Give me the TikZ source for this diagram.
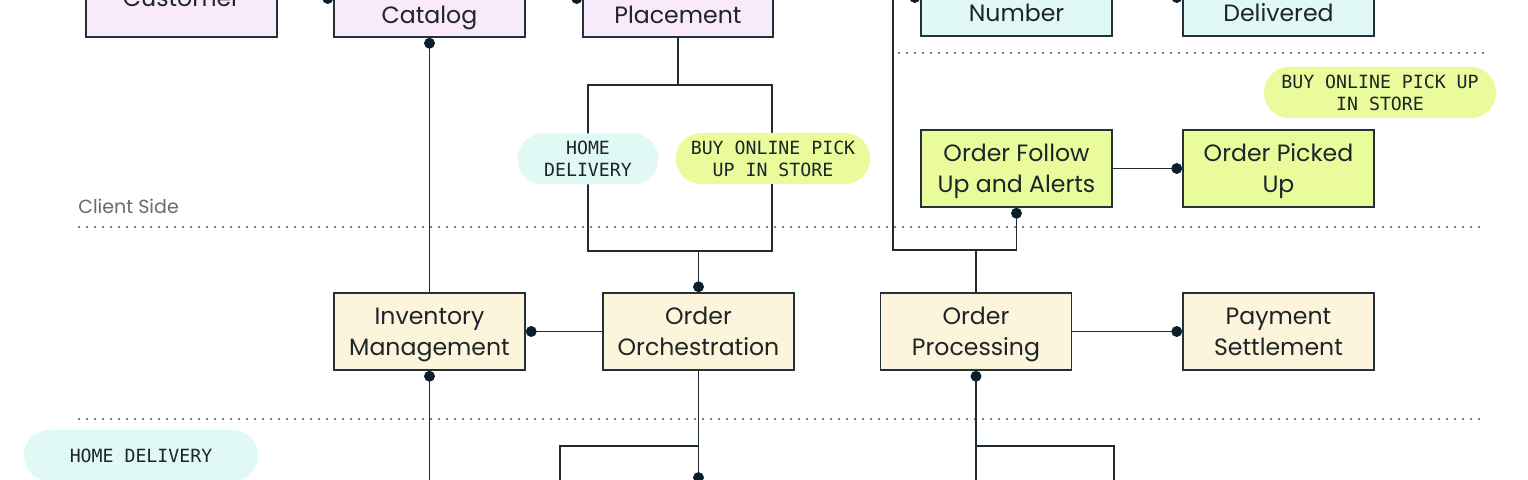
\documentclass[tikz,border=0pt]{standalone}
\usepackage{fontspec}
\setmainfont{Poppins}
\newfontfamily\pillfont{DejaVu Sans Mono}
\usetikzlibrary{arrows.meta}
\definecolor{lav}{HTML}{F8E9FB}
\definecolor{cyanbox}{HTML}{E0F9F5}
\definecolor{lime}{HTML}{E9FB9B}
\definecolor{cream}{HTML}{FDF5DB}
\definecolor{edge}{HTML}{25313A}
\definecolor{wire}{HTML}{1F2B33}
\definecolor{dotc}{HTML}{0B1F2A}
\definecolor{ink}{HTML}{1E2428}
\definecolor{sep}{HTML}{6F7F8E}
\definecolor{greytext}{HTML}{6A6A6A}
\tikzset{
  bdot/.tip={Circle[length=5.4pt,width=5.4pt,color=dotc]},
  box/.style={draw=edge, line width=0.85pt, minimum width=95.5pt, minimum height=38.5pt,
    inner sep=0pt, align=center, text depth=0pt, text=ink, font=\fontsize{11.8}{15.5}\selectfont},
  txt/.style={inner sep=0pt, text=ink, font=\fontsize{11.8}{15.5}\selectfont},
  pill/.style={rounded corners=12.5pt, minimum height=25.5pt, inner sep=0pt, align=center,
    text=ink, font=\pillfont\fontsize{9.1}{11}\selectfont},
  conn/.style={draw=wire, line width=0.95pt},
  sepline/.style={draw=sep, line width=0.8pt, dash pattern=on 0.8pt off 3.2pt},
}
\begin{document}
\begin{tikzpicture}[x=0.5pt,y=-0.5pt]
\useasboundingbox (0,0) rectangle (1528,480);
\clip (0,0) rectangle (1528,480);

% separators
\draw[sepline] (78,227) -- (1485,227);
\draw[sepline] (78,419) -- (1485,419);
\draw[sepline] (898,53) -- (1488,53);
\node[anchor=base west, inner sep=0pt, text=greytext, font=\fontsize{9.5}{11}\selectfont] (client) at (78,214) {Client Side};

% top row boxes (cut by the top edge)
\node[box, fill=lav] (cust) at (181.5,-1.5) {};
\node[txt, anchor=base] (custt) at (181.5,7) {Customer};
\node[box, fill=lav] (cat) at (429.5,-1.5) {};
\node[txt, anchor=base] (catt) at (429.5,23.5) {Catalog};
\node[box, fill=lav, minimum width=95pt] (place) at (678,-1.5) {};
\node[txt, anchor=base] (placet) at (678,23.5) {Placement};
\node[box, fill=cyanbox] (num) at (1016.5,-2.5) {};
\node[txt, anchor=base] (numt) at (1016.5,22) {Number};
\node[box, fill=cyanbox] (deliv) at (1278.5,-2.5) {};
\node[txt, anchor=base] (delivt) at (1278.5,22) {Delivered};

% client side boxes
\node[box, fill=lime] (follow) at (1016.5,168.5) {Order Follow\\Up and Alerts};
\node[box, fill=lime] (picked) at (1278.5,168.5) {Order Picked\\Up};

% middle row
\node[box, fill=cream] (inv) at (429.5,331.5) {Inventory\\Management};
\node[box, fill=cream] (orch) at (698.5,331.5) {Order\\Orchestration};
\node[box, fill=cream] (proc) at (976,331.5) {Order\\Processing};
\node[box, fill=cream] (pay) at (1278.5,331.5) {Payment\\Settlement};

% coordinates
\coordinate (pb) at (678,85);
\coordinate (brtl) at (588,85);
\coordinate (brbr) at (772,251);
\coordinate (brj) at (698.5,251);
\coordinate (pj) at (976,250);
\coordinate (pl) at (893,250);
\coordinate (ob) at (698.5,483);
\coordinate (oj) at (698.5,446);
\coordinate (ol) at (560,446);
\coordinate (olb) at (560,490);
\coordinate (ib) at (429.5,490);
\coordinate (prb) at (976,490);
\coordinate (prj) at (976,446);
\coordinate (prr) at (1114,446);
\coordinate (prrb) at (1114,490);

% connectors
\draw[conn,-bdot] (cust.east) -- (cat.west);
\draw[conn,-bdot] (cat.east) -- (place.west);
\draw[conn,-bdot] (num.east) -- (deliv.west);
\draw[conn,bdot-] (cat.south) -- (inv.north);
\draw[conn] (place.south) -- (pb);
\draw[conn] (brtl) rectangle (brbr);
\draw[conn,-bdot] (brj) -- (orch.north);
\draw[conn,-bdot] (orch.west) -- (inv.east);
\draw[conn,-bdot] (proc.east) -- (pay.west);
\draw[conn] (proc.north) -- (pj);
\draw[conn,-bdot] (pj) -| (follow.south);
\draw[conn,-bdot] (pj) -- (pl) |- (num.west);
\draw[conn,-bdot] (follow.east) -- (picked.west);
\draw[conn,bdot-] (inv.south) -- (ib);
\draw[conn,-bdot] (orch.south) -- (ob);
\draw[conn] (oj) -- (ol) -- (olb);
\draw[conn,bdot-] (proc.south) -- (prb);
\draw[conn] (prj) -- (prr) -- (prrb);

% pills
\node[pill, fill=cyanbox, minimum width=70.5pt] (hd1) at (588,159) {HOME\\DELIVERY};
\node[pill, fill=lime, minimum width=97pt] (bo1) at (773,158.5) {BUY ONLINE PICK\\UP IN STORE};
\node[pill, fill=lime, minimum width=116pt] (bo2) at (1380,92.5) {BUY ONLINE PICK UP\\IN STORE};
\node[pill, fill=cyanbox, minimum width=117pt] (hd2) at (141,455.5) {HOME DELIVERY};
\end{tikzpicture}
\end{document}
